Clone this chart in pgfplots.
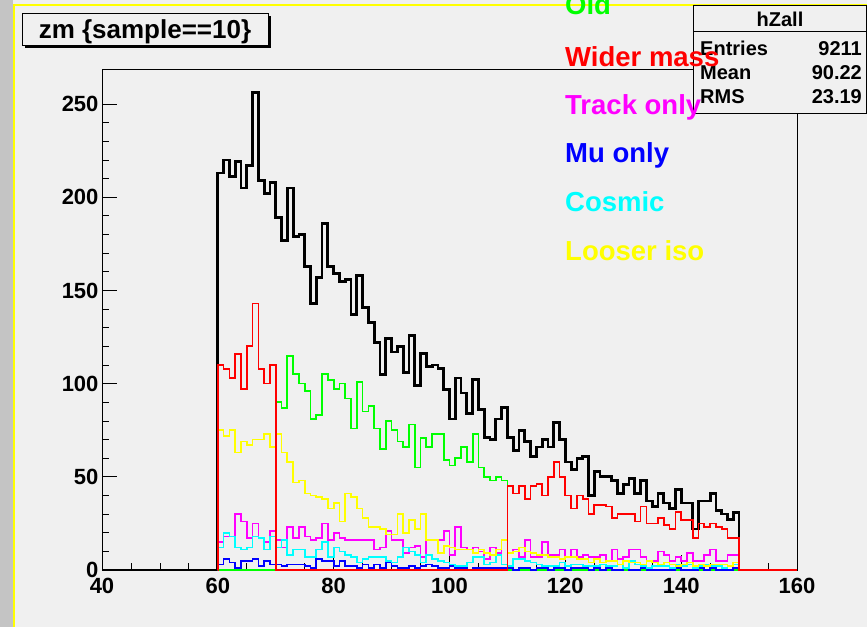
\documentclass[border=0pt]{standalone}
\usepackage{pgfplots}
\pgfplotsset{compat=1.18}
\usepackage{pgfplotstable}
\usepackage{fontspec}
\setmainfont{Liberation Sans}

\definecolor{canvasbg}{RGB}{240,240,240}
\definecolor{sidebar}{RGB}{196,196,196}
\definecolor{hgreen}{RGB}{0,255,0}
\definecolor{hred}{RGB}{255,0,0}
\definecolor{hmag}{RGB}{255,0,255}
\definecolor{hblue}{RGB}{0,0,255}
\definecolor{hcyan}{RGB}{0,255,255}
\definecolor{hyellow}{RGB}{255,255,0}

% zm, 1 GeV bins (low edge), sample==10: total and the six sub-samples
\pgfplotstableread{
x     all grn red mag blu cyn yel
40    0   0   0   0   0   0   0
59.99 0   0   0   0   0   0   0
60    213 0   110 15  3   12  75
61    220 0   108 18  6   20  72
62    211 0   103 18  4   18  75
63    219 0   116 30  1   12  63
64    205 0   97  26  5   11  69
65    217 0   120 17  5   12  67
66    256 0   143 25  6   18  70
67    209 0   108 17  2   17  70
68    202 0   100 15  5   11  73
69    208 0   110 21  3   18  66
70    189 90  0   16  3   12  73
71    177 87  0   12  2   16  63
72    205 115 0   23  3   8   58
73    179 105 0   17  3   11  47
74    180 100 0   23  3   11  48
75    163 96  0   18  2   7   41
76    143 81  0   16  1   7   40
77    157 83  0   17  6   11  39
78    186 105 0   25  5   15  38
79    163 102 0   16  5   7   33
80    159 97  0   20  2   12  36
81    155 100 0   17  5   10  26
82    156 92  0   16  2   8   41
83    137 76  0   16  2   7   39
84    158 101 0   16  1   4   33
85    141 85  0   16  3   6   28
86    133 88  0   16  1   7   23
87    122 76  0   11  3   7   23
88    105 65  0   12  1   7   22
89    124 80  0   21  4   5   19
90    117 75  0   16  2   4   19
91    120 69  0   16  1   7   30
92    106 66  0   9   1   12  20
93    126 78  0   12  2   10  27
94    99  55  0   13  1   8   22
95    116 71  0   7   2   4   30
96    109 66  0   16  3   8   16
97    110 73  0   16  2   6   16
98    108 73  0   16  1   5   9
99    97  59  0   21  1   4   13
100   81  56  0   8   2   3   12
101   103 60  0   23  1   2   11
102   95  66  0   12  1   2   11
103   84  58  0   11  0   4   11
104   102 73  0   12  1   7   9
105   86  55  0   10  1   7   11
106   71  50  0   6   1   3   9
107   70  48  0   12  1   4   8
108   81  50  0   9   1   8   11
109   87  48  0   16  1   3   16
110   71  0   45  9   1   2   9
111   64  0   41  11  0   6   10
112   75  0   45  7   1   6   12
113   69  0   38  16  1   5   10
114   61  0   45  7   0   4   9
115   66  0   46  7   1   3   8
116   70  0   40  15  1   2   8
117   66  0   50  8   0   2   7
118   79  0   58  8   1   2   7
119   70  0   50  11  1   4   6
120   58  0   40  7   0   2   7
121   54  0   33  11  1   3   7
122   60  0   40  7   1   3   6
123   61  0   38  8   1   2   6
124   40  0   30  7   0   2   4
125   53  0   35  7   1   2   6
126   50  0   35  8   0   3   4
127   50  0   34  5   1   2   5
128   48  0   28  11  0   2   5
129   41  0   30  6   0   3   3
130   46  0   30  7   1   1   5
131   49  0   30  11  0   5   4
132   41  0   26  11  0   3   4
133   48  0   34  7   1   2   3
134   37  0   25  5   0   1   5
135   34  0   25  5   0   2   4
136   41  0   28  10  0   2   3
137   36  0   24  8   0   2   4
138   33  0   22  5   0   1   3
139   43  0   31  7   1   3   2
140   36  0   27  5   0   2   3
141   36  0   27  9   0   3   4
142   22  0   17  5   0   1   2
143   37  0   25  5   1   2   3
144   37  0   23  8   0   3   2
145   41  0   25  11  1   2   3
146   32  0   23  5   0   2   3
147   30  0   22  5   0   1   3
148   27  0   17  8   0   2   2
149   31  0   17  8   1   3   4
150   0   0   0   0   0   0   0
160   0   0   0   0   0   0   0
}\zmhist

\begin{document}
\begin{tikzpicture}
\clip (0pt,0pt) rectangle (867pt,-627pt);
% canvas
\fill[canvasbg] (0pt,0pt) rectangle (867pt,-627pt);
\fill[sidebar] (0pt,0pt) rectangle (13pt,-627pt);
\draw[hyellow, line width=2pt] (14pt,-627pt) -- (14pt,-5pt) -- (867pt,-5pt);

\begin{axis}[
  at={(102pt,-570pt)}, anchor=south west,
  scale only axis, width=695pt, height=501pt,
  xmin=40, xmax=160, ymin=0, ymax=268.8,
  xtick={40,60,...,160}, ytick={0,50,...,250},
  minor x tick num=3, minor y tick num=4,
  tick align=inside, tick pos=left,
  major tick length=15pt, minor tick length=7.5pt,
  axis line style={black, line width=0.8pt},
  every tick/.style={black, line width=0.8pt},
  tick label style={font=\fontsize{22}{24}\selectfont\bfseries},
  xticklabel style={yshift=-5pt},
  /pgf/number format/assume math mode=true,
  axis background/.style={fill=canvasbg},
  const plot mark left, mark=none,
]
\addplot[black, line width=2.8pt, restrict x to domain=30:150.5] table[x=x, y=all] {\zmhist};
\addplot[hgreen, line width=1.7pt, restrict x to domain=59:170] table[x=x, y=grn] {\zmhist};
\addplot[hmag, line width=1.7pt, restrict x to domain=59:170] table[x=x, y=mag] {\zmhist};
\addplot[hblue, line width=1.7pt, restrict x to domain=59:170] table[x=x, y=blu] {\zmhist};
\addplot[hcyan, line width=1.7pt, restrict x to domain=59:170] table[x=x, y=cyn] {\zmhist};
\addplot[hyellow, line width=1.7pt, restrict x to domain=59:170] table[x=x, y=yel] {\zmhist};
\addplot[hred, line width=1.7pt, restrict x to domain=59:170] table[x=x, y=red] {\zmhist};
\end{axis}

% statistics box
\draw[black, line width=0.8pt, fill=canvasbg] (693pt,-5pt) rectangle (866.5pt,-113pt);
\draw[black, line width=0.8pt] (693pt,-31pt) -- (866.5pt,-31pt);
\begin{scope}[every node/.style={inner sep=0pt, font=\fontsize{20}{22}\selectfont\bfseries}]
\node[anchor=base] at (780pt,-26pt) {hZall};
\node[anchor=base west] at (700pt,-55pt) {Entries};
\node[anchor=base east] at (862pt,-55pt) {9211};
\node[anchor=base west] at (700pt,-79pt) {Mean};
\node[anchor=base east] at (862pt,-79pt) {90.22};
\node[anchor=base west] at (700pt,-103pt) {RMS};
\node[anchor=base east] at (862pt,-103pt) {23.19};
\end{scope}

% title box with shadow
\fill[black] (25pt,-16pt) rectangle (271pt,-48pt);
\draw[black, line width=0.8pt, fill=canvasbg] (22pt,-13pt) rectangle (268pt,-45pt);
\node[anchor=base, inner sep=0pt, font=\fontsize{26}{28}\selectfont\bfseries] at (145pt,-38pt) {zm \{sample==10\}};

% sample labels
\begin{scope}[every node/.style={anchor=base west, inner sep=0pt, font=\fontsize{27.5}{30}\selectfont\bfseries}]
\node[text=hgreen]  at (565pt,-14pt)  {Old};
\node[text=hred]    at (565pt,-66pt)  {Wider mass};
\node[text=hmag]    at (565pt,-114pt) {Track only};
\node[text=hblue]   at (565pt,-162pt) {Mu only};
\node[text=hcyan]   at (565pt,-211pt) {Cosmic};
\node[text=hyellow] at (565pt,-260pt) {Looser iso};
\end{scope}
\end{tikzpicture}
\end{document}
